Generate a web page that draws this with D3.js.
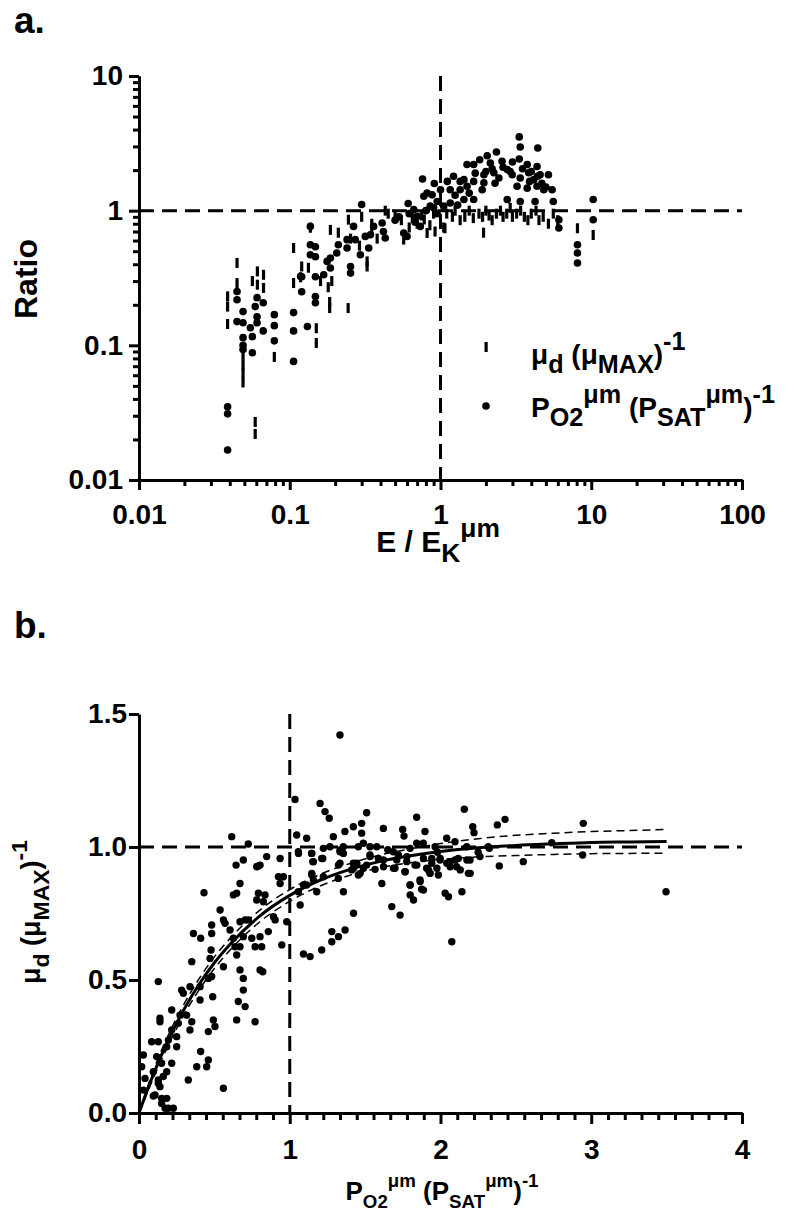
<!DOCTYPE html>
<html>
<head>
<meta charset="utf-8">
<script src="https://cdn.jsdelivr.net/npm/d3@7"></script>
<style>
  body { margin: 0; background: #fff; }
  svg text { font-family: "Liberation Sans", Arial, sans-serif; font-weight: bold; fill: #000; }
</style>
</head>
<body>
<script>
// ---- panel a data: ratio vs E / Ek ----
var muRatio = [
  [0.0447,0.409],[0.0387,0.231],[0.0387,0.194],[0.0387,0.144],[0.0447,0.29],[0.061,0.354],[0.067,0.334],
  [0.067,0.267],[0.0565,0.30],[0.061,0.282],[0.049,0.085],[0.049,0.072],[0.049,0.062],[0.049,0.053],
  [0.079,0.082],[0.106,0.528],[0.106,0.29],[0.12,0.385],[0.133,0.377],[0.15,0.134],[0.15,0.104],
  [0.059,0.027],[0.059,0.022],[0.184,0.189],[0.184,0.21],[0.244,0.189],[0.186,0.72],[0.21,0.686],
  [0.245,0.857],[0.137,0.747],[0.326,0.385],[0.326,0.42],[0.43,1.0],[0.57,0.61],[0.815,0.683],
  [0.18,0.27],[0.19,0.3],[0.16,0.3],[0.118,0.32],[0.253,0.62],[0.29,0.55],[0.35,0.72],[0.38,0.62],
  [0.45,0.95],[0.5,0.9],[0.55,0.85],[0.65,0.88],[0.7,0.8],[0.75,0.92],[0.85,0.78],[0.9,0.95],
  [1.05,0.75],[1.1,0.95],[1.2,0.9],[1.25,1.0],[1.35,0.85],[1.45,0.9],[1.55,1.0],[1.65,0.88],
  [1.8,0.95],[1.9,0.9],[2.0,1.0],[2.1,0.92],[2.2,0.85],[2.35,0.95],[2.5,1.0],[2.6,0.9],[2.75,0.95],
  [2.9,1.05],[3.0,0.9],[3.2,0.95],[3.4,1.0],[3.6,0.9],[3.8,0.85],[4.0,0.95],[4.3,1.0],[4.5,0.85],
  [4.8,0.9],[5.2,0.8],[5.6,0.95],[6.0,0.85],[1.93,0.686],[1.07,0.74],[8.1,0.74],[10.3,0.66],
  [0.35,0.8],[0.3,0.9],[0.92,0.7],[0.62,0.75],[0.78,0.86]
];
var po2Ratio = [
  [0.0447,0.251],[0.0447,0.218],[0.049,0.178],[0.0447,0.15],[0.049,0.147],[0.0548,0.135],[0.049,0.114],
  [0.0565,0.116],[0.049,0.1],[0.049,0.093],[0.0565,0.088],[0.059,0.194],[0.0607,0.226],[0.0667,0.207],
  [0.0607,0.163],[0.0607,0.147],[0.0667,0.128],[0.079,0.169],[0.079,0.14],[0.079,0.108],[0.106,0.175],
  [0.106,0.128],[0.106,0.076],[0.131,0.138],[0.12,0.25],[0.12,0.323],[0.148,0.323],[0.148,0.23],
  [0.148,0.207],[0.137,0.559],[0.137,0.471],[0.148,0.455],[0.0387,0.035],[0.0387,0.031],[0.0387,0.0167],
  [0.76,1.72],[0.91,1.59],[0.30,1.11],[0.61,1.13],[0.53,0.90],[0.137,0.764],[0.148,0.54],
  [0.265,0.764],[0.272,0.609],[0.24,0.609],[0.24,0.528],[0.294,0.471],[0.317,0.644],[0.343,0.663],
  [0.36,0.764],[0.41,0.81],[0.418,0.70],[0.43,0.626],[0.334,0.528],[0.21,0.559],[0.205,0.485],
  [0.186,0.445],[0.177,0.42],[0.186,0.375],[0.168,0.334],[0.118,0.325],[0.253,0.385],[0.253,0.344],
  [0.57,0.683],[0.60,0.644],[0.665,1.02],[0.70,0.907],[0.735,0.764],[0.775,1.28],[0.815,1.35],
  [0.88,1.31],[0.95,1.17],[0.855,1.08],[1.0,1.43],[0.5,0.85],[0.62,0.95],[0.68,0.82],[0.8,1.0],
  [0.9,1.05],[0.95,0.95],
  [3.33,3.53],[3.38,2.97],[4.42,2.92],[3.33,2.42],[2.35,2.73],[2.04,2.56],[1.82,2.39],[1.5,2.2],
  [1.66,2.2],[2.14,2.26],[2.56,2.33],[2.77,2.02],[2.99,1.85],[3.76,2.2],[4.37,2.13],[3.85,1.91],
  [4.58,1.85],[5.2,1.85],[1.94,1.85],[2.26,1.91],[2.44,1.75],[3.38,1.75],[4.16,1.70],[3.22,1.52],
  [3.76,1.47],[4.37,1.52],[4.84,1.43],[5.5,1.43],[1.94,1.61],[1.89,1.43],[1.66,1.65],[1.43,1.70],
  [1.22,1.80],[1.11,1.65],[1.16,1.43],[1.35,1.43],[1.5,1.52],[1.43,1.21],[1.66,1.21],[2.77,1.21],
  [3.38,1.17],[4.24,1.17],[5.6,1.17],[6.1,0.857],[6.1,0.744],[8.1,0.559],[8.1,0.485],[8.1,0.409],
  [10.3,1.21],[10.3,0.857],[1.05,1.08],[1.16,1.14],[1.25,1.3],[1.3,1.1],[1.55,1.35],[2.0,1.95],
  [2.2,2.05],[2.6,2.1],[2.9,1.95],[3.0,2.3],[3.5,2.05],[4.0,1.95],[4.4,1.8],[1.7,1.9],[1.35,1.65],
  [2.3,1.6],[3.9,1.65],[4.7,1.6],[5.0,1.5]
];
var aXTicks = [0.01, 0.1, 1, 10, 100];
var aYTicks = [0.01, 0.1, 1, 10];

// ---- panel b data: growth vs O2 saturation ----
var growth = [
  [0.692,0.951],[0.644,0.932],[0.847,0.964],[0.936,0.957],[0.781,0.926],[0.803,0.932],[1.058,0.976],
  [1.146,0.976],[1.153,0.945],[1.219,0.957],[1.334,0.989],[1.356,0.976],[1.323,0.932],[1.445,0.939],
  [1.489,0.920],[1.533,0.964],[1.588,0.957],[1.622,0.926],[1.688,0.920],[1.710,0.951],[1.777,0.964],
  [1.843,0.932],[1.887,0.957],[1.942,0.939],[1.998,0.957],[2.042,0.939],[2.097,0.951],[2.175,0.951],
  [2.197,0.901],[2.131,0.914],[2.064,0.926],[1.976,0.920],[1.931,0.901],[1.920,0.914],[1.799,0.820],
  [1.821,0.801],[1.865,0.870],[1.887,0.838],[2.031,0.826],[2.053,0.813],[2.142,0.832],[2.075,0.644],
  [1.611,0.863],[1.677,0.776],[1.732,0.744],[1.765,0.907],[1.799,0.857],[1.467,0.901],[1.423,0.920],
  [1.356,0.832],[1.423,0.751],[1.279,0.682],[1.323,0.663],[1.367,0.688],[1.279,0.644],[1.212,0.613],
  [1.135,0.588],[1.091,0.598],[1.179,0.832],[1.146,0.895],[1.091,0.857],[1.069,0.782],[0.980,0.719],
  [0.947,0.632],[0.958,0.888],[0.936,0.863],[0.925,0.888],[0.892,0.738],[0.903,0.726],[0.858,0.682],
  [0.825,0.794],[0.792,0.826],[0.814,0.625],[0.770,0.625],[0.748,0.657],[0.803,0.663],[0.803,0.538],
  [0.821,0.531],[0.726,0.726],[0.704,0.726],[0.670,0.719],[0.692,0.663],[0.637,0.625],[0.626,0.657],
  [0.604,0.688],[0.560,0.726],[0.538,0.763],[0.571,0.713],[0.626,0.820],[0.648,0.826],[0.670,0.863],
  [0.648,0.594],[0.670,0.625],[0.692,0.506],[0.692,0.462],[0.704,0.400],[0.659,0.419],[0.670,0.538],
  [0.648,0.350],[0.770,0.343],[0.560,0.550],[0.504,0.325],[0.493,0.350],[0.489,0.437],[0.482,0.513],
  [0.460,0.506],[0.471,0.581],[0.478,0.613],[0.482,0.675],[0.482,0.707],[0.409,0.657],[0.361,0.675],
  [0.431,0.828],[0.350,0.569],[0.338,0.475],[0.283,0.462],[0.294,0.450],[0.405,0.475],[0.405,0.425],
  [0.460,0.306],[0.460,0.199],[0.449,0.174],[0.409,0.231],[0.383,0.174],[0.327,0.124],[0.560,0.093],
  [0.350,0.343],[0.338,0.312],[0.316,0.368],[0.272,0.368],[0.261,0.337],[0.217,0.387],[0.217,0.312],
  [0.250,0.287],[0.250,0.249],[0.195,0.274],[0.184,0.249],[0.139,0.356],[0.139,0.343],[0.128,0.268],
  [0.084,0.268],[0.117,0.212],[0.150,0.187],[0.184,0.155],[0.161,0.137],[0.095,0.155],[0.128,0.124],
  [0.128,0.112],[0.139,0.099],[0.106,0.068],[0.095,0.064],[0.150,0.055],[0.184,0.055],[0.150,0.036],
  [0.173,0.018],[0.195,0.018],[0.228,0.018],[0.029,0.218],[0.018,0.174],[0.040,0.130],[0.128,0.494],
  [0.217,0.187],[0.029,0.086],
  [0.615,1.039],[0.725,1.011],[1.333,1.421],[1.035,1.179],[1.201,1.164],[1.234,1.133],[1.262,1.108],
  [1.046,1.045],[1.112,1.033],[1.289,1.039],[1.366,1.058],[1.422,1.076],[1.477,1.089],[1.510,1.129],
  [1.477,1.052],[1.621,1.070],[1.057,0.982],[1.145,0.976],[1.223,0.995],[1.267,1.001],[1.355,1.001],
  [1.455,1.001],[1.532,1.001],[1.577,1.001],[1.333,0.982],[1.532,0.970],[1.687,0.982],
  [1.842,1.112],[2.158,1.142],[2.377,1.083],[2.428,1.104],[2.214,1.076],[2.222,1.054],[1.897,1.058],
  [1.749,1.066],[1.758,1.041],[1.212,0.957],[1.157,0.945],[1.488,1.014],[1.621,0.951],[1.776,0.945],
  [1.798,0.995],[1.842,1.014],[1.886,1.014],[1.964,1.001],[2.041,1.033],[2.096,1.020],[2.174,1.001],
  [2.317,1.001],[2.262,0.964],[2.196,0.951],[2.118,0.957],[2.063,0.945],[1.997,0.951],[1.942,0.957],
  [1.908,0.920],[1.930,0.901],[1.986,0.895],[2.107,0.926],[2.185,0.901],[2.390,0.929],[1.831,0.932],
  [1.765,0.907],[1.864,0.876],[1.798,0.857],[1.875,0.841],[1.698,0.920],[1.510,0.932],[1.566,0.916],
  [1.422,0.939],[1.411,0.914],[1.455,0.895],[1.333,0.939],[1.146,0.901],[1.157,0.876],[1.112,0.857],
  [1.223,0.888],[1.322,0.882],[1.057,0.832],[0.836,0.820],[0.781,0.801],[0.792,0.929],
  [2.947,1.089],[2.738,1.016],[2.943,0.970],[2.549,0.945],[2.324,0.995],[3.496,0.832],
  [1.98,0.98],[2.25,0.98],[1.65,0.99],[1.72,0.97]
];
// fitted curve and its confidence band
var fitX  = [0, 0.1, 0.2, 0.3, 0.4, 0.5, 0.6, 0.8, 1.0, 1.2, 1.4, 1.6, 1.8, 2.0, 2.25, 2.5, 2.75, 3.0, 3.25, 3.5];
var fitY  = [0, 0.152, 0.281, 0.391, 0.485, 0.565, 0.632, 0.740, 0.818, 0.875, 0.916, 0.946, 0.967, 0.983, 0.997, 1.006, 1.012, 1.017, 1.019, 1.021];
var fitLo = [0, 0.137, 0.262, 0.371, 0.464, 0.543, 0.610, 0.718, 0.796, 0.853, 0.894, 0.922, 0.941, 0.953, 0.963, 0.968, 0.972, 0.975, 0.976, 0.977];
var fitHi = [0, 0.167, 0.300, 0.411, 0.506, 0.587, 0.654, 0.762, 0.840, 0.897, 0.938, 0.970, 0.993, 1.013, 1.031, 1.044, 1.052, 1.058, 1.062, 1.066];
var bXTicks = [0, 1, 2, 3, 4];
var bYTicks = [0, 0.5, 1.0, 1.5];

var svg = d3.select("body").append("svg")
  .attr("width", 797)
  .attr("height", 1230);

var FS = 28;

// rich text with sub/superscripts: parts = [[text, "n"|"sub"|"sup"], ...]
function rich(sel, parts, size, ratio) {
  var cur = 0;
  parts.forEach(function(p) {
    var off = p[1] === "sub" ? 0.32 * size : (p[1] === "sup" ? -0.5 * size : 0);
    sel.append("tspan")
      .attr("dy", off - cur)
      .attr("font-size", p[1] === "n" ? size : size * ratio)
      .text(p[0]);
    cur = off;
  });
  return sel;
}

function styleAxis(g) {
  g.selectAll("path").attr("stroke-width", 3).attr("stroke", "#000");
  g.selectAll("line").attr("stroke-width", 3).attr("stroke", "#000");
  g.selectAll("text").attr("font-size", FS).attr("font-family", null);
}

// ================= panel a =================
var ax = d3.scaleLog().domain([0.01, 100]).range([139, 742]);
var ay = d3.scaleLog().domain([0.01, 10]).range([480, 76]);

function minorLog(lo, hi) {
  var out = [];
  for (var e = lo; e < hi; e++) {
    for (var m = 2; m <= 9; m++) out.push(m * Math.pow(10, e));
  }
  return out;
}

// reference lines
svg.append("line")
  .attr("x1", ax(0.01)).attr("x2", ax(100))
  .attr("y1", ay(1)).attr("y2", ay(1))
  .attr("stroke", "#000").attr("stroke-width", 3).attr("stroke-dasharray", "15,8");
svg.append("line")
  .attr("x1", ax(1)).attr("x2", ax(1))
  .attr("y1", ay(10)).attr("y2", ay(0.01))
  .attr("stroke", "#000").attr("stroke-width", 3).attr("stroke-dasharray", "15,8");

// mu_d markers: short vertical bars
svg.append("g").selectAll("rect")
  .data(muRatio)
  .enter().append("rect")
    .attr("x", function(d) { return ax(d[0]) - 1.6; })
    .attr("y", function(d) { return ay(d[1]) - 5; })
    .attr("width", 3.2)
    .attr("height", 10)
    .attr("fill", "#000");

// PO2 markers: dots
svg.append("g").selectAll("circle")
  .data(po2Ratio)
  .enter().append("circle")
    .attr("cx", function(d) { return ax(d[0]); })
    .attr("cy", function(d) { return ay(d[1]); })
    .attr("r", 3.8)
    .attr("fill", "#000");

// axes
var axB = svg.append("g").attr("transform", "translate(0," + ay(0.01) + ")")
  .call(d3.axisBottom(ax).tickValues(aXTicks).tickFormat(d3.format("~g")).tickSize(10).tickSizeOuter(0).tickPadding(14));
styleAxis(axB);
var axBm = svg.append("g").attr("transform", "translate(0," + ay(0.01) + ")")
  .call(d3.axisBottom(ax).tickValues(minorLog(-2, 2)).tickFormat("").tickSize(6).tickSizeOuter(0));
styleAxis(axBm);

var ayL = svg.append("g").attr("transform", "translate(" + ax(0.01) + ",0)")
  .call(d3.axisLeft(ay).tickValues(aYTicks).tickFormat(d3.format("~g")).tickSize(10).tickSizeOuter(0).tickPadding(6));
styleAxis(ayL);
var ayLm = svg.append("g").attr("transform", "translate(" + ax(0.01) + ",0)")
  .call(d3.axisLeft(ay).tickValues(minorLog(-2, 1)).tickFormat("").tickSize(6).tickSizeOuter(0));
styleAxis(ayLm);

// labels
svg.append("text").attr("x", 14).attr("y", 33).attr("font-size", 37).text("a.");
svg.append("text")
  .attr("transform", "translate(37,279) rotate(-90)")
  .attr("text-anchor", "middle").attr("font-size", 32)
  .text("Ratio");
rich(svg.append("text").attr("x", 438).attr("y", 552).attr("text-anchor", "middle"),
  [["E / E", "n"], ["K", "sub"], ["μm", "sup"]], 30, 0.88);

// legend
svg.append("rect").attr("x", 484.5).attr("y", 342).attr("width", 3.2).attr("height", 10).attr("fill", "#000");
svg.append("circle").attr("cx", 486).attr("cy", 406).attr("r", 3.8).attr("fill", "#000");
rich(svg.append("text").attr("x", 531).attr("y", 364),
  [["μ", "n"], ["d", "sub"], [" (μ", "n"], ["MAX", "sub"], [")", "n"], ["-1", "sup"]], 28, 0.9);
rich(svg.append("text").attr("x", 531).attr("y", 417),
  [["P", "n"], ["O2", "sub"], ["μm", "sup"], [" (P", "n"], ["SAT", "sub"], ["μm", "sup"], [")", "n"], ["-1", "sup"]], 28, 0.9);

// ================= panel b =================
var bx = d3.scaleLinear().domain([0, 4]).range([139, 742]);
var by = d3.scaleLinear().domain([0, 1.5]).range([1113, 714]);

svg.append("line")
  .attr("x1", bx(0)).attr("x2", bx(4))
  .attr("y1", by(1)).attr("y2", by(1))
  .attr("stroke", "#000").attr("stroke-width", 3).attr("stroke-dasharray", "15,8");
svg.append("line")
  .attr("x1", bx(1)).attr("x2", bx(1))
  .attr("y1", by(1.5)).attr("y2", by(0))
  .attr("stroke", "#000").attr("stroke-width", 3).attr("stroke-dasharray", "15,8");

svg.append("g").selectAll("circle")
  .data(growth)
  .enter().append("circle")
    .attr("cx", function(d) { return bx(d[0]); })
    .attr("cy", function(d) { return by(d[1]); })
    .attr("r", 3.7)
    .attr("fill", "#000");

function fitLine(ys) {
  return d3.line()
    .x(function(d, i) { return bx(fitX[i]); })
    .y(function(d) { return by(d); })
    .curve(d3.curveMonotoneX)(ys);
}
svg.append("path").attr("d", fitLine(fitLo))
  .attr("fill", "none").attr("stroke", "#000").attr("stroke-width", 1.5).attr("stroke-dasharray", "8,5");
svg.append("path").attr("d", fitLine(fitHi))
  .attr("fill", "none").attr("stroke", "#000").attr("stroke-width", 1.5).attr("stroke-dasharray", "8,5");
svg.append("path").attr("d", fitLine(fitY))
  .attr("fill", "none").attr("stroke", "#000").attr("stroke-width", 3);

var bxB = svg.append("g").attr("transform", "translate(0," + by(0) + ")")
  .call(d3.axisBottom(bx).tickValues(bXTicks).tickFormat(d3.format("d")).tickSize(11).tickSizeOuter(0).tickPadding(15));
styleAxis(bxB);
var bMinor = [];
bXTicks.slice(0, -1).forEach(function(t) {
  for (var k = 1; k < 9; k++) bMinor.push(t + k / 9);
});
var bxBm = svg.append("g").attr("transform", "translate(0," + by(0) + ")")
  .call(d3.axisBottom(bx).tickValues(bMinor).tickFormat("").tickSize(7).tickSizeOuter(0));
styleAxis(bxBm);

var byL = svg.append("g").attr("transform", "translate(" + bx(0) + ",0)")
  .call(d3.axisLeft(by).tickValues(bYTicks).tickFormat(d3.format(".1f")).tickSize(10).tickSizeOuter(0).tickPadding(2));
styleAxis(byL);

svg.append("text").attr("x", 14).attr("y", 638).attr("font-size", 37).text("b.");
rich(svg.append("text")
    .attr("transform", "translate(40,912) rotate(-90)")
    .attr("text-anchor", "middle"),
  [["μ", "n"], ["d", "sub"], [" (μ", "n"], ["MAX", "sub"], [")", "n"], ["-1", "sup"]], 27, 0.85);
rich(svg.append("text").attr("x", 442).attr("y", 1200).attr("text-anchor", "middle"),
  [["P", "n"], ["O2", "sub"], ["μm", "sup"], [" (P", "n"], ["SAT", "sub"], ["μm", "sup"], [")", "n"], ["-1", "sup"]], 26, 0.72);
</script>
</body>
</html>
